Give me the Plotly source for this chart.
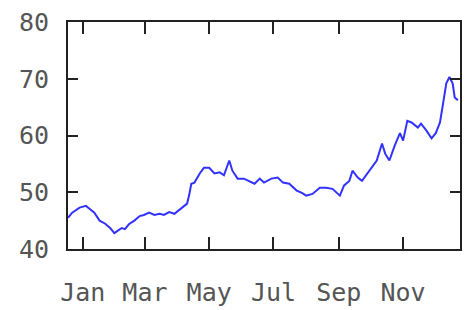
import plotly.graph_objects as go

dates = [
    "2004-12-18", "2004-12-22", "2004-12-29", "2005-01-04", "2005-01-08", "2005-01-12",
    "2005-01-17", "2005-01-22", "2005-01-27", "2005-01-31", "2005-02-03", "2005-02-07",
    "2005-02-10", "2005-02-14", "2005-02-19", "2005-02-24", "2005-02-28", "2005-03-05",
    "2005-03-10", "2005-03-15", "2005-03-19", "2005-03-24", "2005-03-29", "2005-04-02",
    "2005-04-07", "2005-04-10", "2005-04-12", "2005-04-14", "2005-04-17", "2005-04-22",
    "2005-04-26", "2005-05-01", "2005-05-06", "2005-05-11", "2005-05-15", "2005-05-20",
    "2005-05-23", "2005-05-28", "2005-06-03", "2005-06-08", "2005-06-13", "2005-06-18",
    "2005-06-22", "2005-06-29", "2005-07-05", "2005-07-10", "2005-07-16", "2005-07-23",
    "2005-07-28", "2005-08-01", "2005-08-07", "2005-08-14", "2005-08-20", "2005-08-26",
    "2005-09-02", "2005-09-06", "2005-09-11", "2005-09-14", "2005-09-19", "2005-09-23",
    "2005-09-28", "2005-10-02", "2005-10-07", "2005-10-12", "2005-10-15", "2005-10-19",
    "2005-10-24", "2005-10-29", "2005-11-01", "2005-11-05", "2005-11-09", "2005-11-15",
    "2005-11-18", "2005-11-23", "2005-11-28", "2005-12-02", "2005-12-06", "2005-12-09",
    "2005-12-12", "2005-12-15", "2005-12-18", "2005-12-20", "2005-12-23",
]
values = [
    45.5, 46.4, 47.3, 47.6, 47.0, 46.4,
    45.0, 44.5, 43.7, 42.8, 43.2, 43.7,
    43.5, 44.4, 45.0, 45.8, 46.0, 46.4,
    46.0, 46.2, 46.0, 46.5, 46.2, 46.8,
    47.6, 48.0, 49.5, 51.5, 51.7, 53.3,
    54.3, 54.3, 53.3, 53.5, 53.0, 55.6,
    53.8, 52.4, 52.4, 52.0, 51.5, 52.4,
    51.7, 52.4, 52.6, 51.7, 51.5, 50.3,
    49.9, 49.4, 49.7, 50.8, 50.8, 50.6,
    49.4, 51.2, 52.0, 53.8, 52.6, 52.0,
    53.3, 54.3, 55.6, 58.6, 56.8, 55.6,
    58.2, 60.4, 59.1, 62.6, 62.3, 61.4,
    62.1, 60.9, 59.5, 60.4, 62.3, 65.7,
    69.2, 70.3, 69.2, 66.7, 66.2,
]

x_tickvals = ["2005-01-01", "2005-03-01", "2005-05-01", "2005-07-01", "2005-09-01", "2005-11-01"]
x_ticktext = ["Jan", "Mar", "May", "Jul", "Sep", "Nov"]
y_tickvals = [40, 50, 60, 70, 80]

fig = go.Figure()
fig.add_trace(go.Scatter(
    x=dates, y=values, mode="lines",
    line=dict(color="rgb(50,50,255)", width=2),
    hoverinfo="skip", showlegend=False,
))

tickfont = dict(family="DejaVu Sans Mono", size=25, color="#555555")
fig.update_layout(
    width=471, height=310,
    margin=dict(l=60, r=19, t=14, b=69, autoexpand=False),
    paper_bgcolor="white", plot_bgcolor="white",
    xaxis=dict(
        range=["2004-12-18", "2005-12-25"],
        tickvals=x_tickvals, ticktext=x_ticktext,
        ticks="inside", ticklen=12, tickwidth=1.5, tickcolor="#222",
        mirror="allticks", showline=True, linecolor="#222", linewidth=2,
        showgrid=False, zeroline=False, tickfont=tickfont, ticklabelstandoff=20,
        automargin=False, ticklabeloverflow="allow",
    ),
    yaxis=dict(
        range=[40, 80],
        tickvals=y_tickvals,
        ticks="inside", ticklen=10, tickwidth=1.5, tickcolor="#222",
        mirror="allticks", showline=True, linecolor="#222", linewidth=2,
        showgrid=False, zeroline=False, tickfont=tickfont, ticklabelstandoff=12,
        automargin=False, ticklabeloverflow="allow",
    ),
)
fig.write_html("out.html")
